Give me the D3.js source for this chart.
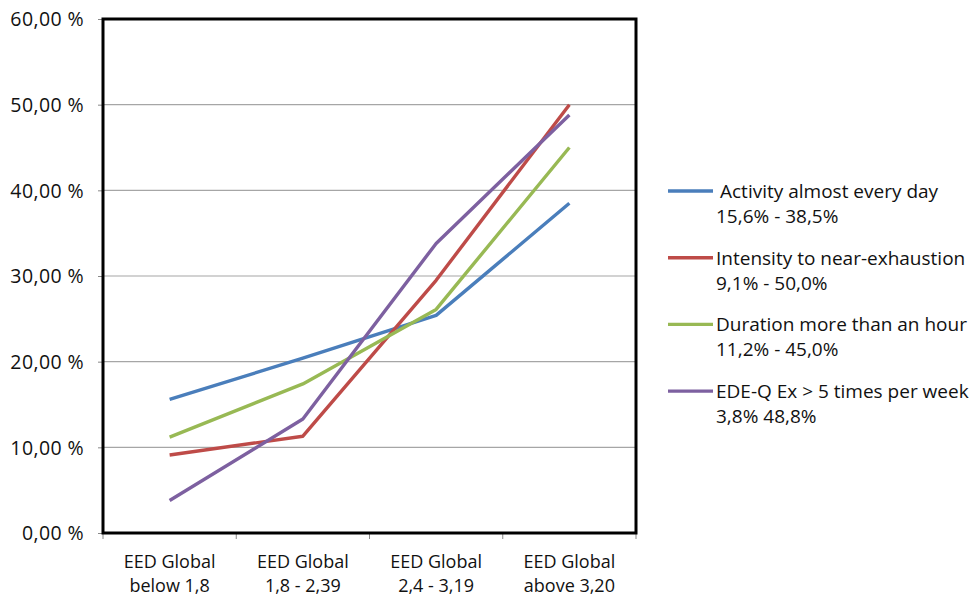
<!DOCTYPE html>
<html><head><meta charset="utf-8">
<script src="https://cdn.jsdelivr.net/npm/d3@7"></script>
<style>body{margin:0;background:#fff}text{font-family:"Open Sans",sans-serif;fill:#111}</style>
</head><body>
<svg id="c" width="977" height="597"></svg>
<script>
const categories = [["EED Global","below 1,8"],["EED Global","1,8 - 2,39"],["EED Global","2,4 - 3,19"],["EED Global","above 3,20"]];
const seriesNames = [["Activity almost every day","15,6% - 38,5%"],["Intensity to near-exhaustion","9,1% - 50,0%"],["Duration more than an hour","11,2% - 45,0%"],["EDE-Q Ex > 5 times per week","3,8% 48,8%"]];
const activity = [15.6, 20.4, 25.4, 38.5];
const intensity = [9.1, 11.3, 29.5, 50.0];
const duration = [11.2, 17.4, 26.1, 45.0];
const edeq = [3.8, 13.3, 33.8, 48.8];
const yTicks = [0,10,20,30,40,50,60];
const colors = ["#4a7ebb","#be4b48","#98b954","#7d60a0"];
const series = [activity,intensity,duration,edeq];

const svg = d3.select("#c");
const L=103,R=636,T=19,B=533;
const x = d3.scaleBand().domain(d3.range(categories.length)).range([L,R]);
const y = d3.scaleLinear().domain([0,60]).range([B,T]);

svg.append("g").selectAll("line").data(yTicks.filter(d=>d>0&&d<60)).join("line")
  .attr("x1",L).attr("x2",R).attr("y1",d=>y(d)).attr("y2",d=>y(d))
  .attr("stroke","#a6a6a6").attr("stroke-width",1.2);

const ya = svg.append("g").attr("transform",`translate(${L},0)`)
  .call(d3.axisLeft(y).tickValues(yTicks).tickSize(5).tickFormat(d=>d3.format(".2f")(d).replace(".",",")+" %"));
ya.select(".domain").remove();
ya.selectAll("line").attr("stroke","#888");
ya.selectAll("text").attr("x",-19).attr("dy","0.35em").style("font-size","19.5px")
  .style("letter-spacing","0.4px").style("font-family","'Open Sans',sans-serif").style("fill","#111");

const bounds = d3.range(categories.length+1).map(i=>L+i*x.step());
svg.append("g").selectAll("line").data(bounds).join("line")
  .attr("x1",d=>d).attr("x2",d=>d).attr("y1",B).attr("y2",B+6).attr("stroke","#888");
const xl = svg.append("g").selectAll("text").data(categories).join("text")
  .attr("text-anchor","middle").style("font-size","18px")
  .attr("transform",(d,i)=>`translate(${x(i)+x.bandwidth()/2},0)`);
xl.append("tspan").attr("x",0).attr("y",568).text(d=>d[0]);
xl.append("tspan").attr("x",0).attr("y",592).text(d=>d[1]);

svg.append("rect").attr("x",L).attr("y",T).attr("width",R-L).attr("height",B-T)
  .attr("fill","none").attr("stroke","#000").attr("stroke-width",3);

const line = d3.line().x((d,i)=>x(i)+x.bandwidth()/2).y(d=>y(d));
svg.append("g").selectAll("path").data(series).join("path")
  .attr("d",line).attr("fill","none").attr("stroke",(d,i)=>colors[i]).attr("stroke-width",3.4)
  .attr("stroke-linejoin","round");

const lg = svg.append("g").selectAll("g").data(seriesNames).join("g")
  .attr("transform",(d,i)=>`translate(668,${191+i*66.7})`);
lg.append("line").attr("x1",0).attr("x2",45).attr("y1",0).attr("y2",0)
  .attr("stroke",(d,i)=>colors[i]).attr("stroke-width",3.4);
const lt = lg.append("text").style("font-size","19px");
lt.append("tspan").attr("x",(d,i)=>i===0?52:48).attr("y",7).text(d=>d[0]);
lt.append("tspan").attr("x",48).attr("y",32).text(d=>d[1]);
</script>
</body></html>
